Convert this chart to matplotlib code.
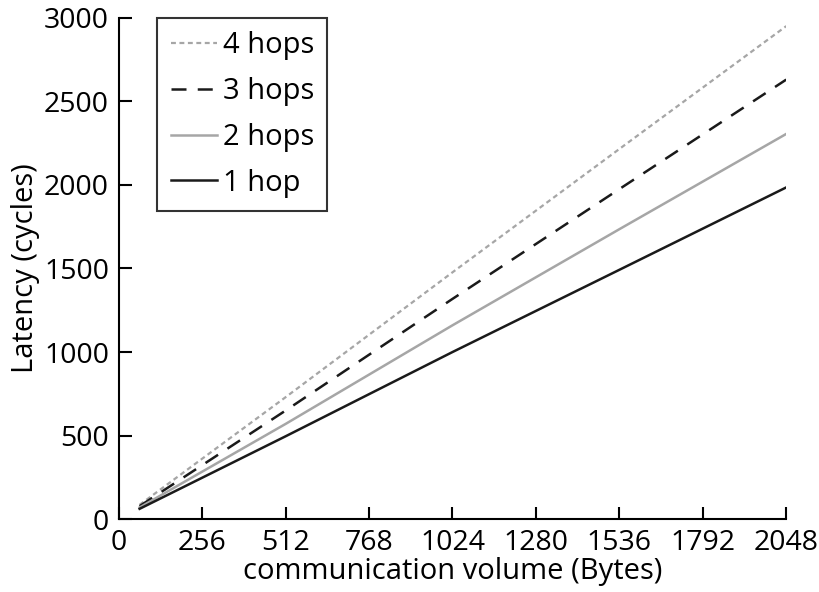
import matplotlib.pyplot as plt

# values
volume = [64, 512, 1024, 1536, 2048]
hop1 = [62, 496, 1000, 1492, 1985]
hop2 = [70, 570, 1160, 1735, 2305]
hop3 = [78, 650, 1318, 1975, 2630]
hop4 = [86, 730, 1477, 2215, 2950]
x_ticks = [0, 256, 512, 768, 1024, 1280, 1536, 1792, 2048]
y_ticks = [0, 500, 1000, 1500, 2000, 2500, 3000]

plt.rcParams['font.family'] = ['Open Sans', 'DejaVu Sans']

fig = plt.figure(figsize=(8.19, 5.92), dpi=100)
ax = fig.add_axes([0.145, 0.123, 0.815, 0.847])

gray = '#a6a6a6'
ax.plot(volume, hop4, color=gray, linewidth=1.6, linestyle=(0, (2.2, 1.6)), label='4 hops')
ax.plot(volume, hop3, color='#1a1a1a', linewidth=1.8, linestyle=(0, (6, 4.5)), label='3 hops')
ax.plot(volume, hop2, color=gray, linewidth=1.8, label='2 hops')
ax.plot(volume, hop1, color='#1a1a1a', linewidth=1.8, label='1 hop')

ax.set_xlim(0, 2048)
ax.set_ylim(0, 3000)
ax.set_xticks(x_ticks)
ax.set_yticks(y_ticks)
ax.tick_params(direction='in', length=9, width=1.5, labelsize=20.5, pad=7)
for side in ['top', 'right']:
    ax.spines[side].set_visible(False)
for side in ['left', 'bottom']:
    ax.spines[side].set_linewidth(1.5)

ax.set_xlabel('communication volume (Bytes)', fontsize=21, labelpad=0)
ax.set_ylabel('Latency (cycles)', fontsize=21, labelpad=3)

leg = ax.legend(loc='upper left', bbox_to_anchor=(0.058, 1.0), fontsize=21, frameon=True,
                fancybox=False, handlelength=1.6, handletextpad=0.2, borderpad=0.45,
                labelspacing=0.58, borderaxespad=0.0)
leg.get_frame().set_edgecolor('black')
leg.get_frame().set_linewidth(1.5)

fig.savefig('out.png', dpi=100)
